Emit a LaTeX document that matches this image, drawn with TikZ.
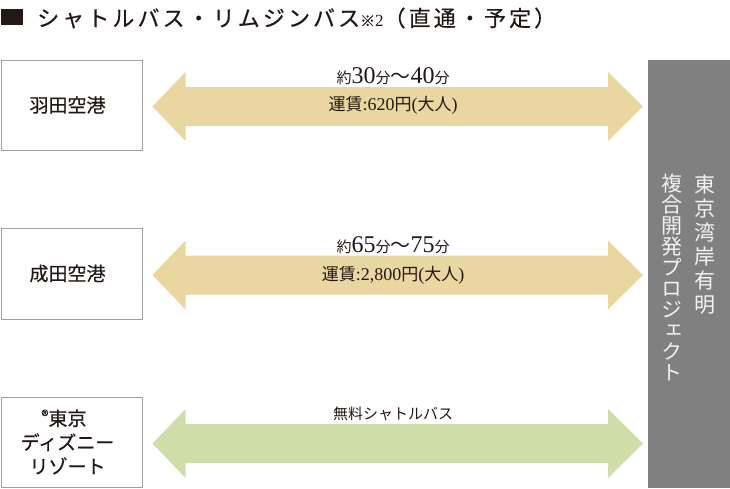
\documentclass[tikz,border=0pt]{standalone}
\usepackage{fontspec}
\setmainfont{Liberation Serif}
\newfontfamily\jp{Noto Sans CJK JP}
\newfontfamily\jpm[FakeBold=0.6]{Noto Sans CJK JP}
\newfontfamily\jpv[RawFeature=+vert]{Noto Sans CJK JP}
\newfontfamily\jpt[LetterSpace=14,FakeBold=0.4]{Noto Sans CJK JP}
\usetikzlibrary{calc}
\definecolor{shuttleTan}{RGB}{233,214,160}
\definecolor{freeGreen}{RGB}{207,221,168}
\definecolor{barGray}{RGB}{128,128,128}
\definecolor{barText}{RGB}{242,242,242}
\definecolor{boxLine}{RGB}{160,160,160}
\definecolor{ink}{RGB}{35,24,21}
\newcommand{\jsmall}[1]{{\jp\fontsize{15}{15}\selectfont #1}}
\newcommand{\jfare}[1]{{\jp\fontsize{17}{17}\selectfont #1}}
\newcommand{\bignum}[1]{{\fontsize{24}{24}\selectfont #1}}
\newcommand{\farenum}[1]{{\fontsize{18}{18}\selectfont #1}}

\begin{document}
\begin{tikzpicture}[x=1pt,y=-1pt,
place/.style = {draw=boxLine, line width=1pt, minimum width=141pt, minimum height=90pt, inner sep=0pt},
placetext/.style = {text=ink, inner sep=0pt, align=center, font=\jpm\fontsize{19}{24}\selectfont},
timetext/.style = {text=ink, inner sep=0pt, anchor=base},
bartext/.style = {text=barText, inner sep=0pt, text height=18.5pt, text depth=2.5pt, font=\jpv\fontsize{21}{21}\selectfont},]
\useasboundingbox (0,0) rectangle (730,488);
% title
\fill[ink] (1,9) rectangle (23,25);
\node[anchor=west, inner sep=0pt, text=ink, font=\jpt\fontsize{22}{22}\selectfont] (title) at (37,18) {シャトルバス・リムジンバス{\fontsize{15}{15}\selectfont ※}{\rmfamily\fontsize{17}{17}\selectfont 2}（直通・予定）};
% destination
\node[fill=barGray, anchor=north west, minimum width=82pt, minimum height=428pt, inner sep=0pt] (bay) at (648,60) {};
\foreach \ch [count=\i] in {東,京,湾,岸,有,明}
  \node[bartext] (bayA\i) at (705,160+24*\i) {\ch};
\foreach \ch [count=\i] in {複,合,開,発,プ,ロ,ジ,ェ,ク,ト}
  \node[bartext] (bayB\i) at (672,162.5+21*\i) {\ch};
% origins
\node[place, label={[placetext, xshift=-4pt]center:羽田空港}] (hnd) at (71.5,105) {};
\node[place, minimum height=91pt, label={[placetext, xshift=-4pt]center:成田空港}] (nrt) at (71.5,273.5) {};
\node[place, label={[placetext, xshift=-4pt]center:{\llap{\fontsize{15}{15}\selectfont\raisebox{4pt}{®}}東京\\ディズニー\\リゾート}}] (tdr) at (71.5,442) {};
% arrows
\foreach \n/\c in {hnd/shuttleTan, nrt/shuttleTan, tdr/freeGreen} {
  \path ($(\n.east)+(10,1.5)$) coordinate (l) ($(\n.east -| bay.west)+(-5,1.5)$) coordinate (r);
  \fill[\c] (l) -- ($(l)+(33,-34.5)$) -- ($(l)+(33,-19.5)$) -- ($(r)+(-35,-19.5)$) -- ($(r)+(-35,-34.5)$)
    -- (r) -- ($(r)+(-35,34.5)$) -- ($(r)+(-35,19.5)$) -- ($(l)+(33,19.5)$) -- ($(l)+(33,34.5)$) -- cycle;
}
\node[timetext] (hndtime) at (393,83) {\jsmall{約}\bignum{30}\jsmall{分}{\jp\fontsize{20}{20}\selectfont 〜}\bignum{40}\jsmall{分}};
\node[timetext] (hndfare) at (393,110) {\jfare{運賃}\farenum{:620}\jfare{円}\farenum{(}\jfare{大人}\farenum{)}};
\node[timetext] (nrttime) at (393,252) {\jsmall{約}\bignum{65}\jsmall{分}{\jp\fontsize{20}{20}\selectfont 〜}\bignum{75}\jsmall{分}};
\node[timetext] (nrtfare) at (393,280) {\jfare{運賃}\farenum{:2,800}\jfare{円}\farenum{(}\jfare{大人}\farenum{)}};
\node[timetext] (tdrfree) at (393,419) {\jsmall{無料シャトルバス}};
\end{tikzpicture}
\end{document}
